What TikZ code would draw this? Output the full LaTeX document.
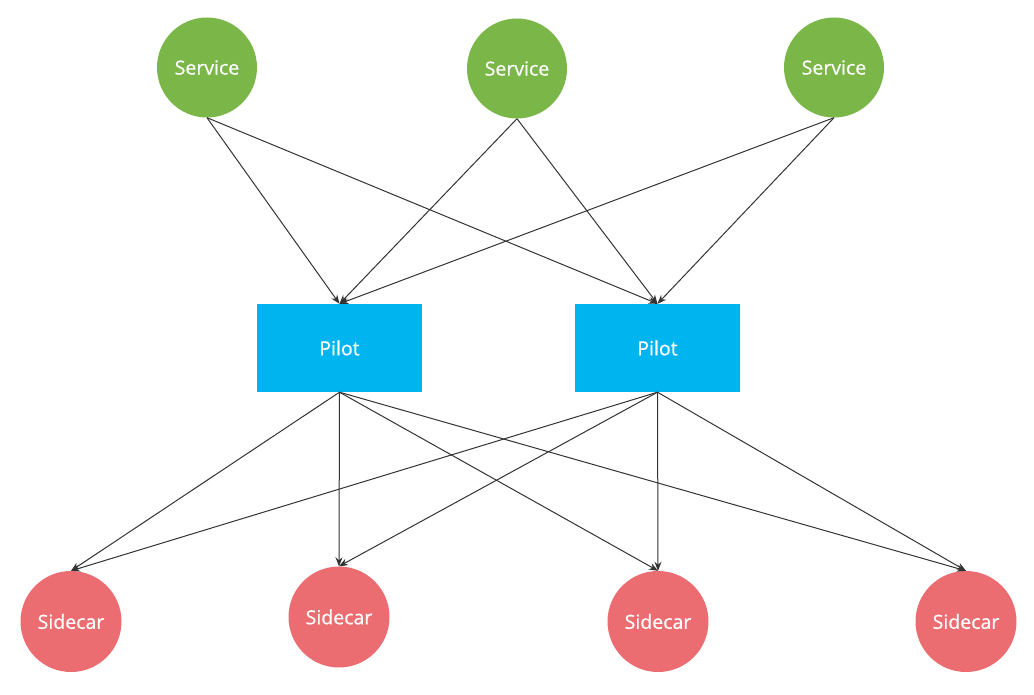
\documentclass[tikz,border=0pt]{standalone}
\usepackage{fontspec}
\setmainfont{Open Sans}[FakeBold=0.6]
\usetikzlibrary{arrows.meta}
\definecolor{svc}{HTML}{7AB648}
\definecolor{plt}{HTML}{00B4F0}
\definecolor{sdc}{HTML}{EC6D71}
\definecolor{edge}{HTML}{333333}
\begin{document}
\begin{tikzpicture}[x=1pt,y=-1pt,
  lbl/.style={text=white,font=\fontsize{19.5}{22}\selectfont},
  svcnode/.style={circle,fill=svc,minimum size=100pt,inner sep=0pt,lbl},
  sdcnode/.style={circle,fill=sdc,minimum size=101pt,inner sep=0pt,lbl},
  pltnode/.style={rectangle,fill=plt,minimum width=165pt,minimum height=88pt,inner sep=0pt,lbl},
  conn/.style={draw=edge,line width=1pt,-{Stealth[length=9pt,width=7pt]}}]
\useasboundingbox (0,0) rectangle (1034,695);
\node[svcnode] (s1) at (207,67.5) {Service};
\node[svcnode] (s2) at (517,68.5) {Service};
\node[svcnode] (s3) at (834,67.5) {Service};
\node[pltnode] (p1) at (339.5,348) {Pilot};
\node[pltnode] (p2) at (657.5,348) {Pilot};
\node[sdcnode] (c1) at (71,621.5) {Sidecar};
\node[sdcnode] (c2) at (339,617) {Sidecar};
\node[sdcnode] (c3) at (658,621.5) {Sidecar};
\node[sdcnode] (c4) at (966,621.5) {Sidecar};
\foreach \s in {s1,s2,s3}{
  \foreach \p in {p1,p2}{
    \draw[conn] (\s.south) -- (\p.north);
  }
}
\foreach \p in {p1,p2}{
  \foreach \c in {c1,c2,c3,c4}{
    \draw[conn] (\p.south) -- (\c.north);
  }
}
\end{tikzpicture}
\end{document}
